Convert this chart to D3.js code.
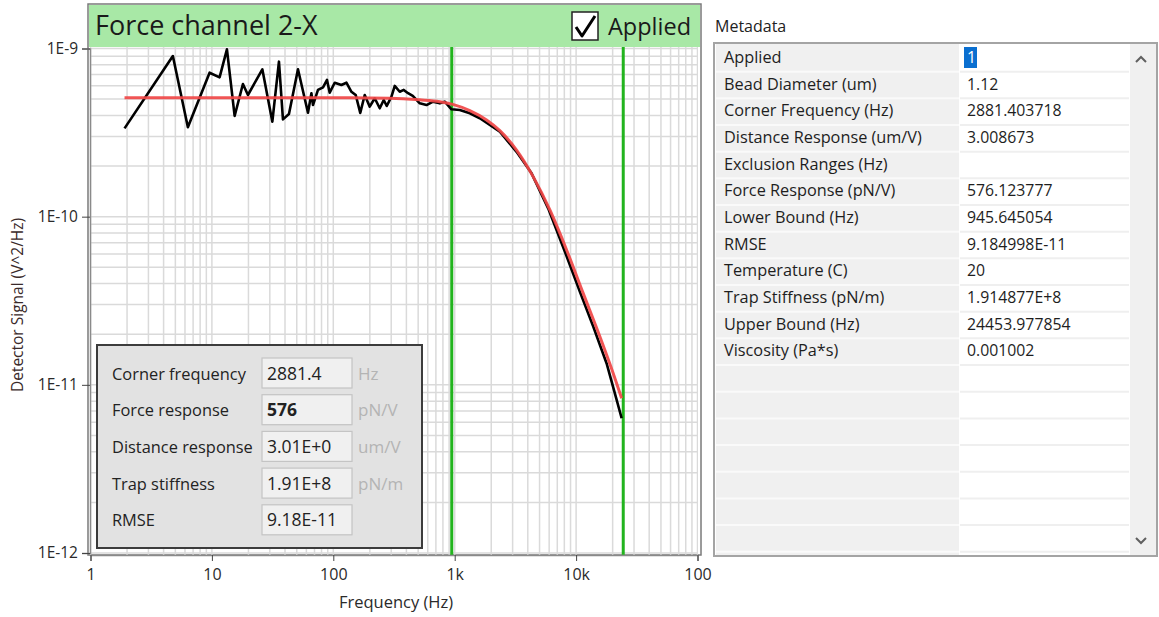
<!DOCTYPE html>
<html>
<head>
<meta charset="utf-8">
<script src="https://cdn.jsdelivr.net/npm/d3@7"></script>
<style>
  html, body { margin: 0; padding: 0; background: #ffffff; }
  svg { display: block; font-family: "Open Sans", "Noto Sans", sans-serif; }
</style>
</head>
<body>
<svg id="chart" width="1159" height="617"></svg>
<script>
// Measured power spectral density (black trace)
const freqHz = [1.907, 4.77, 6.34, 9.57, 11.57, 13.30, 15.39, 18.01, 19.81, 26.03,
  31.47, 35.67, 38.49, 43.13, 51.17, 61.86, 66.01, 68.03, 74.79, 82.27,
  88.75, 93.4, 102.7, 116.6, 128.2, 141.1, 153.0, 166.7, 181.5, 199.6,
  219.4, 241.3, 260.3, 275.6, 301.3, 320.8, 352.7, 380.5, 412.9, 451.5,
  515.7, 585.6, 663.6, 753.8, 828.6, 941.0, 1101.6, 1332, 1610, 1947,
  2354, 3232, 4297, 5888, 8086, 10750, 13840, 17840, 21580, 23720];
const psd = [3.35e-10, 9.02e-10, 3.40e-10, 7.18e-10, 6.74e-10, 9.89e-10, 3.97e-10, 6.15e-10, 5.29e-10, 7.52e-10,
  3.67e-10, 8.35e-10, 3.79e-10, 4.08e-10, 7.52e-10, 4.15e-10, 5.42e-10, 4.61e-10, 5.67e-10, 5.88e-10,
  6.50e-10, 5.46e-10, 6.26e-10, 6.07e-10, 6.26e-10, 5.53e-10, 5.29e-10, 4.14e-10, 5.29e-10, 4.51e-10,
  5.06e-10, 4.41e-10, 4.94e-10, 4.55e-10, 5.17e-10, 5.99e-10, 5.53e-10, 5.67e-10, 5.42e-10, 5.22e-10,
  4.72e-10, 4.61e-10, 4.83e-10, 4.72e-10, 4.83e-10, 4.35e-10, 4.31e-10, 4.12e-10, 3.85e-10, 3.51e-10,
  3.20e-10, 2.43e-10, 1.81e-10, 1.12e-10, 6.19e-11, 3.57e-11, 2.22e-11, 1.34e-11, 8.13e-12, 6.33e-12];

// Lorentzian fit (red trace)
const fitFreqHz = [1.907, 20.46, 136.5, 291.7, 515.7, 753.8, 964.5, 1332, 1829, 2354,
  3232, 4429, 6081, 8351, 11446, 15713, 20228, 23720];
const fitPsd = [5.09e-10, 5.09e-10, 5.09e-10, 5.06e-10, 4.95e-10, 4.83e-10, 4.65e-10, 4.27e-10, 3.76e-10, 3.25e-10,
  2.49e-10, 1.73e-10, 1.096e-10, 6.34e-11, 3.50e-11, 1.934e-11, 1.17e-11, 8.32e-12];

// Fit range cursors
const boundsHz = [945.645054, 24453.977854];

// Axis ticks
const xTickValues = [1, 10, 100, 1000, 10000, 100000];
const xTickLabels = ["1", "10", "100", "1k", "10k", "100"];
const yTickValues = [1e-12, 1e-11, 1e-10, 1e-9];
const yTickLabels = ["1E-12", "1E-11", "1E-10", "1E-9"];

// Fit summary panel
const summaryLabels = ["Corner frequency", "Force response", "Distance response", "Trap stiffness", "RMSE"];
const summaryValues = ["2881.4", "576", "3.01E+0", "1.91E+8", "9.18E-11"];
const summaryUnits = ["Hz", "pN/V", "um/V", "pN/m", ""];

// Metadata table
const metaNames = ["Applied", "Bead Diameter (um)", "Corner Frequency (Hz)", "Distance Response (um/V)",
  "Exclusion Ranges (Hz)", "Force Response (pN/V)", "Lower Bound (Hz)", "RMSE", "Temperature (C)",
  "Trap Stiffness (pN/m)", "Upper Bound (Hz)", "Viscosity (Pa*s)"];
const metaValues = ["1", "1.12", "2881.403718", "3.008673", "", "576.123777", "945.645054",
  "9.184998E-11", "20", "1.914877E+8", "24453.977854", "0.001002"];

const svg = d3.select("#chart");

// ---------- Graph ----------
const plot = { left: 90, right: 698, top: 47, bottom: 555 };
const x = d3.scaleLog().domain([1, 100000]).range([90.5, 697.5]);
const y = d3.scaleLog().domain([1e-12, 1e-9]).range([553, 48.5]);

// frame and title bar
svg.append("rect").attr("x", 88).attr("y", 4).attr("width", 613).attr("height", 551)
  .attr("fill", "#ffffff").attr("stroke", "#7a7a7a").attr("stroke-width", 1.5);
svg.append("rect").attr("x", 89).attr("y", 5).attr("width", 611).attr("height", 42)
  .attr("fill", "#a8e8a6");
svg.append("text").attr("x", 95).attr("y", 35).attr("font-size", 27).attr("fill", "#1a1a1a")
  .text("Force channel 2-X");

// checkbox
const cb = svg.append("g").attr("transform", "translate(572,12)");
cb.append("rect").attr("width", 26).attr("height", 28).attr("fill", "#ffffff")
  .attr("stroke", "#222").attr("stroke-width", 1.5);
cb.append("path").attr("d", "M4,15 L10,24 L23,4").attr("fill", "none")
  .attr("stroke", "#000").attr("stroke-width", 3).attr("stroke-linejoin", "round");
svg.append("text").attr("x", 608).attr("y", 35).attr("font-size", 23.5).attr("fill", "#1a1a1a")
  .text("Applied");

// clip for plot contents
svg.append("clipPath").attr("id", "plotClip").append("rect")
  .attr("x", plot.left).attr("y", plot.top).attr("width", plot.right - plot.left)
  .attr("height", plot.bottom - plot.top);
const gPlot = svg.append("g").attr("clip-path", "url(#plotClip)");

// grid lines (major and minor)
const xGrid = [];
for (let d = 1; d < 100000; d *= 10) for (let m = 1; m <= 9; m++) xGrid.push(d * m);
xGrid.push(100000);
const yGrid = [];
for (let d = 1e-12; d < 0.99e-9; d *= 10) for (let m = 1; m <= 9; m++) yGrid.push(d * m);
yGrid.push(1e-9);

gPlot.append("g").selectAll("line").data(xGrid).join("line")
  .attr("x1", d => x(d)).attr("x2", d => x(d))
  .attr("y1", plot.top).attr("y2", plot.bottom)
  .attr("stroke", "#dadada").attr("stroke-width", 1.5);
gPlot.append("g").selectAll("line").data(yGrid).join("line")
  .attr("y1", d => y(d)).attr("y2", d => y(d))
  .attr("x1", plot.left).attr("x2", plot.right)
  .attr("stroke", "#dadada").attr("stroke-width", 1.5);

// fit range cursors
gPlot.append("g").selectAll("line").data(boundsHz).join("line")
  .attr("x1", d => x(d)).attr("x2", d => x(d))
  .attr("y1", plot.top).attr("y2", plot.bottom)
  .attr("stroke", "#22b41e").attr("stroke-width", 3);

// traces
const line = d3.line().x(d => x(d[0])).y(d => y(d[1]));
gPlot.append("path").datum(d3.zip(freqHz, psd))
  .attr("d", line).attr("fill", "none").attr("stroke", "#000000")
  .attr("stroke-width", 2.6).attr("stroke-linejoin", "round");
gPlot.append("path").datum(d3.zip(fitFreqHz, fitPsd))
  .attr("d", line.curve(d3.curveMonotoneX)).attr("fill", "none").attr("stroke", "#f04646")
  .attr("stroke-width", 3).attr("stroke-opacity", 0.92);

// axes
const xAxis = d3.axisBottom(x).tickValues(xTickValues)
  .tickFormat((d, i) => xTickLabels[i]).tickSize(6).tickPadding(8);
const gx = svg.append("g").attr("transform", `translate(0,${plot.bottom})`).call(xAxis);
gx.select(".domain").attr("stroke", "#8a8a8a").attr("stroke-width", 1.5);
gx.selectAll(".tick line").attr("stroke", "#444");
gx.selectAll("text").attr("font-size", 16).attr("fill", "#2a2a2a")
  .attr("font-family", "'Open Sans', sans-serif");

const yAxis = d3.axisLeft(y).tickValues(yTickValues)
  .tickFormat((d, i) => yTickLabels[i]).tickSize(8).tickPadding(4);
const gy = svg.append("g").attr("transform", `translate(${plot.left},0)`).call(yAxis);
gy.select(".domain").attr("stroke", "#8a8a8a").attr("stroke-width", 1.5);
gy.selectAll(".tick line").attr("stroke", "#444");
gy.selectAll("text").attr("font-size", 15.5).attr("fill", "#2a2a2a")
  .attr("font-family", "'Open Sans', sans-serif");

svg.append("text").attr("x", 396).attr("y", 608).attr("text-anchor", "middle")
  .attr("font-size", 16.5).attr("fill", "#2a2a2a").text("Frequency (Hz)");
svg.append("text").attr("transform", "translate(23,305) rotate(-90)").attr("text-anchor", "middle")
  .attr("font-size", 15.5).attr("fill", "#3a2a2a").text("Detector Signal (V^2/Hz)");

// ---------- Fit summary panel ----------
const panel = svg.append("g").attr("transform", "translate(97,345)");
panel.append("rect").attr("width", 325).attr("height", 203)
  .attr("fill", "#e2e2e2").attr("stroke", "#3c3c3c").attr("stroke-width", 2);
const rowPitch = 36.7;
const rows = panel.selectAll("g.row").data(summaryLabels).join("g")
  .attr("class", "row").attr("transform", (d, i) => `translate(0,${13 + i * rowPitch})`);
rows.append("text").attr("x", 15).attr("y", 21.5).attr("font-size", 16.4).attr("fill", "#222")
  .text(d => d);
rows.append("rect").attr("x", 165).attr("y", 0).attr("width", 90).attr("height", 30)
  .attr("fill", "#f0f0f0").attr("stroke", "#c4c4c4").attr("stroke-width", 1.2);
rows.append("text").attr("x", 170).attr("y", 21.5).attr("font-size", 17.5)
  .attr("fill", "#222").attr("font-weight", (d, i) => i === 1 ? "bold" : "normal")
  .text((d, i) => summaryValues[i]);
rows.append("text").attr("x", 261).attr("y", 21.5).attr("font-size", 17)
  .attr("fill", "#b4b4b4").text((d, i) => summaryUnits[i]);

// ---------- Metadata table ----------
svg.append("text").attr("x", 715).attr("y", 32).attr("font-size", 16).attr("fill", "#222")
  .text("Metadata");
const tbl = { x: 714, y: 43, w: 443, h: 513 };
svg.append("clipPath").attr("id", "tblClip").append("rect")
  .attr("x", tbl.x + 1).attr("y", tbl.y + 1).attr("width", tbl.w - 2).attr("height", tbl.h - 2);
svg.append("rect").attr("x", tbl.x).attr("y", tbl.y).attr("width", tbl.w).attr("height", tbl.h)
  .attr("fill", "#ffffff");
const gT = svg.append("g").attr("clip-path", "url(#tblClip)");
const rowH = 26.67;
const nRows = d3.range(20);
const nameX0 = 716, nameX1 = 959, valX0 = 960, valX1 = 1129;
gT.append("rect").attr("x", nameX0).attr("y", tbl.y).attr("width", nameX1 - nameX0)
  .attr("height", tbl.h).attr("fill", "#f0f0f0");
gT.append("rect").attr("x", valX1 + 1).attr("y", tbl.y).attr("width", 30)
  .attr("height", tbl.h).attr("fill", "#f0f0f0");
// row separators
gT.append("g").selectAll("line").data(nRows).join("line")
  .attr("x1", nameX0).attr("x2", nameX1)
  .attr("y1", d => tbl.y + 2 + (d + 1) * rowH).attr("y2", d => tbl.y + 2 + (d + 1) * rowH)
  .attr("stroke", "#fafafa").attr("stroke-width", 2);
gT.append("g").selectAll("line").data(nRows).join("line")
  .attr("x1", valX0).attr("x2", valX1)
  .attr("y1", d => tbl.y + 2 + (d + 1) * rowH).attr("y2", d => tbl.y + 2 + (d + 1) * rowH)
  .attr("stroke", "#efefef").attr("stroke-width", 2);
// selection highlight on first value
gT.append("rect").attr("x", 964).attr("y", tbl.y + 4).attr("width", 13).attr("height", 21)
  .attr("fill", "#0a6fd0");
gT.append("g").selectAll("text").data(metaNames).join("text")
  .attr("x", 724).attr("y", (d, i) => tbl.y + 20 + i * rowH)
  .attr("font-size", 16.3).attr("fill", "#1e1e1e").text(d => d);
gT.append("g").selectAll("text").data(metaValues).join("text")
  .attr("x", 967).attr("y", (d, i) => tbl.y + 20 + i * rowH)
  .attr("font-size", 15.8).attr("fill", (d, i) => i === 0 ? "#ffffff" : "#1e1e1e").text(d => d);
// scroll arrows
gT.append("path").attr("d", "M1136,62 L1141,57 L1146,62").attr("fill", "none")
  .attr("stroke", "#606060").attr("stroke-width", 2);
gT.append("path").attr("d", "M1136,538 L1141,543 L1146,538").attr("fill", "none")
  .attr("stroke", "#606060").attr("stroke-width", 2);
svg.append("rect").attr("x", tbl.x).attr("y", tbl.y).attr("width", tbl.w).attr("height", tbl.h)
  .attr("fill", "none").attr("stroke", "#a4a4a4").attr("stroke-width", 2);
</script>
</body>
</html>
